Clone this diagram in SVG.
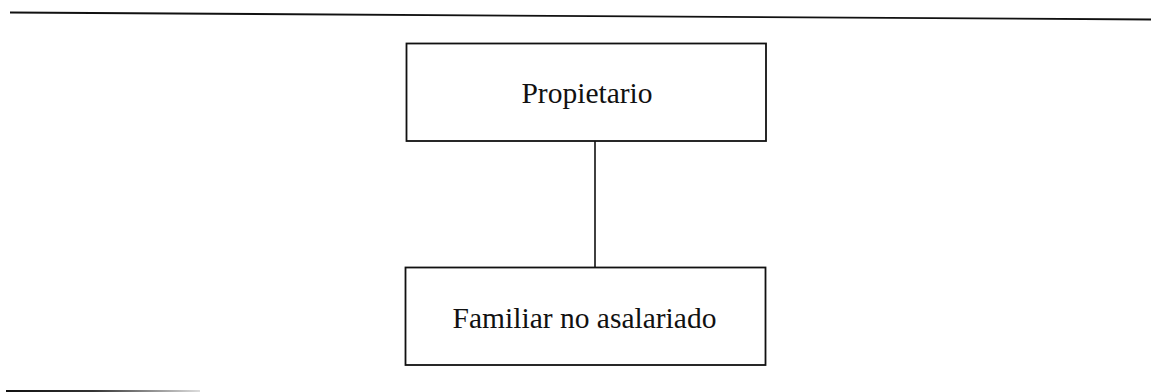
<svg xmlns="http://www.w3.org/2000/svg" width="1151" height="392" viewBox="0 0 1151 392">
  <style>
    .box { fill: #ffffff; stroke: #111111; stroke-width: 1.8; }
    .label { font-family: "Liberation Serif", "Times New Roman", serif; font-size: 29.5px; fill: #111111; text-anchor: middle; }
    .rule { stroke: #111111; stroke-width: 1.8; fill: none; }
    .conn { stroke: #111111; stroke-width: 1.6; fill: none; }
  </style>
  <defs>
    <linearGradient id="fade" x1="6" y1="0" x2="200" y2="0" gradientUnits="userSpaceOnUse">
      <stop offset="0" stop-color="#111111"/>
      <stop offset="0.45" stop-color="#333333"/>
      <stop offset="1" stop-color="#dddddd"/>
    </linearGradient>
  </defs>
  <rect width="1151" height="392" fill="#ffffff"/>
  <line class="rule" x1="10" y1="12.5" x2="1151" y2="19.5"/>
  <line x1="6" y1="391" x2="200" y2="391" stroke="url(#fade)" stroke-width="1.8"/>
  <g id="connectors">
    <line class="conn" x1="595" y1="141" x2="595" y2="267"/>
  </g>
  <g id="node-propietario">
    <rect class="box" x="406.5" y="43.5" width="359.5" height="97.5"/>
    <text class="label" x="587" y="103">Propietario</text>
  </g>
  <g id="node-familiar">
    <rect class="box" x="405.5" y="267.5" width="360" height="97.5"/>
    <text class="label" x="584.5" y="328">Familiar no asalariado</text>
  </g>
</svg>
